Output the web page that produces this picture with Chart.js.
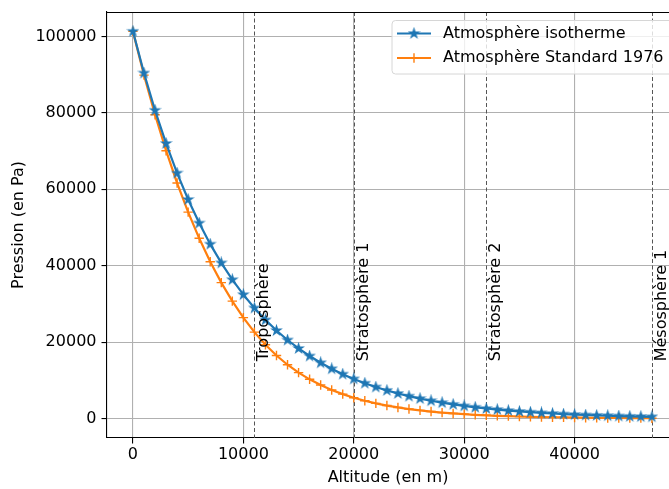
<!DOCTYPE html>
<html><head><meta charset="utf-8">
<script src="https://cdn.jsdelivr.net/npm/chart.js@4/dist/chart.umd.min.js"></script>
<style>html,body{margin:0;padding:0;background:#fff;}canvas{display:block;}</style>
</head><body>
<canvas id="c" width="669" height="489"></canvas>
<script>
// ---- data ----
const altitudes = [0,1000,2000,3000,4000,5000,6000,7000,8000,9000,10000,11000,12000,13000,14000,15000,16000,17000,18000,19000,20000,21000,22000,23000,24000,25000,26000,27000,28000,29000,30000,31000,32000,33000,34000,35000,36000,37000,38000,39000,40000,41000,42000,43000,44000,45000,46000,47000];
const isothermPressure = [101325,90418,80685,72000,64250,57334,51162,45655,40740,36354,32441,28949,25833,23052,20571,18357,16381,14618,13044,11640,10387,9269,8271,7381,6586,5877,5244,4680,4176,3727,3326,2968,2649,2364,2110,1883,1680,1499,1338,1194,1065,950,848,757,675,602,537,479];
const standardPressure = [101325,89874,79494,70107,61639,54022,47181,41059,35595,30739,26435,22630,19330,16510,14101,12044,10287,8786,7504,6410,5475,4678,4000,3422,2931,2511,2153,1848,1586,1363,1172,1008,868,748,646,559,484,420,366,318,278,242,212,186,163,143,126,111];
const seriesNames = ['Atmosphère isotherme','Atmosphère Standard 1976'];
const xTicks = [0,10000,20000,30000,40000];
const yTicks = [0,20000,40000,60000,80000,100000];
const layerAltitudes = [11000,20000,32000,47000];
const layerNames = ['Troposphère','Stratosphère 1','Stratosphère 2','Mésosphère 1'];
const layerLabelPressure = 15000;

// ---- styles ----
const BLUE = '#1f77b4', ORANGE = '#ff7f0e';
const FONT = '"DejaVu Sans", sans-serif';
const FS = 16;

function makeStar(color){
  const c = document.createElement('canvas');
  c.width = 13; c.height = 13;
  const g = c.getContext('2d');
  const R = 4.6, r = R*0.381966, cx = 6.5, cy = 6.5;
  g.beginPath();
  for (let k=0;k<10;k++){
    const ang = -Math.PI/2 + k*Math.PI/5;
    const rr = k%2===0 ? R : r;
    const px = cx + rr*Math.cos(ang), py = cy + rr*Math.sin(ang);
    if (k===0) g.moveTo(px,py); else g.lineTo(px,py);
  }
  g.closePath();
  g.fillStyle = color; g.fill();
  g.strokeStyle = color; g.lineWidth = 1.3; g.lineJoin='miter'; g.stroke();
  return c;
}
const starImg = makeStar(BLUE);

function drawCross(ctx, x, y, r, color){
  ctx.save(); ctx.strokeStyle = color; ctx.lineWidth = 1.4;
  ctx.beginPath(); ctx.moveTo(x-r,y); ctx.lineTo(x+r,y); ctx.moveTo(x,y-r); ctx.lineTo(x,y+r); ctx.stroke();
  ctx.restore();
}

const decor = {
  id: 'decor',
  beforeDatasetsDraw(chart){
    const {ctx, chartArea:a, scales:{x}} = chart;
    ctx.save();
    ctx.strokeStyle = '#555'; ctx.lineWidth = 1; ctx.setLineDash([4,2.5]);
    layerAltitudes.forEach(v => {
      const px = Math.round(x.getPixelForValue(v)) + 0.5;
      ctx.beginPath(); ctx.moveTo(px, a.top); ctx.lineTo(px, a.bottom); ctx.stroke();
    });
    ctx.restore();
  },
  afterDatasetsDraw(chart){
    const {ctx, chartArea:a, scales:{x,y}} = chart;
    ctx.save();
    ctx.fillStyle = '#000'; ctx.font = FS + 'px ' + FONT;
    ctx.textAlign = 'left'; ctx.textBaseline = 'alphabetic';
    const py = y.getPixelForValue(layerLabelPressure);
    layerAltitudes.forEach((v,i) => {
      const px = x.getPixelForValue(v);
      ctx.save(); ctx.translate(px + 14, py); ctx.rotate(-Math.PI/2);
      ctx.fillText(layerNames[i], 0, 0); ctx.restore();
    });
    // top spine
    ctx.strokeStyle = '#000'; ctx.lineWidth = 1.1;
    ctx.beginPath(); ctx.moveTo(a.left, a.top + 0.5); ctx.lineTo(a.right + 10, a.top + 0.5); ctx.stroke();
    // legend
    const lx = 392, ly = 20.5, lw = 290, lh = 53.5, rad = 3.5;
    ctx.beginPath();
    ctx.moveTo(lx+rad, ly); ctx.lineTo(lx+lw-rad, ly); ctx.arcTo(lx+lw, ly, lx+lw, ly+rad, rad);
    ctx.lineTo(lx+lw, ly+lh-rad); ctx.arcTo(lx+lw, ly+lh, lx+lw-rad, ly+lh, rad);
    ctx.lineTo(lx+rad, ly+lh); ctx.arcTo(lx, ly+lh, lx, ly+lh-rad, rad);
    ctx.lineTo(lx, ly+rad); ctx.arcTo(lx, ly, lx+rad, ly, rad); ctx.closePath();
    ctx.fillStyle = 'rgba(255,255,255,0.8)'; ctx.fill();
    ctx.strokeStyle = '#d6d6d6'; ctx.lineWidth = 1; ctx.stroke();
    const rows = [33.5, 58];
    const colors = [BLUE, ORANGE];
    rows.forEach((ry, i) => {
      ctx.strokeStyle = colors[i]; ctx.lineWidth = 2.2;
      ctx.beginPath(); ctx.moveTo(397, ry); ctx.lineTo(431, ry); ctx.stroke();
      if (i === 0) ctx.drawImage(starImg, 414 - starImg.width/2, ry - starImg.height/2);
      else drawCross(ctx, 414, ry, 4.7, ORANGE);
      ctx.fillStyle = '#000'; ctx.textBaseline = 'middle'; ctx.textAlign = 'left';
      ctx.fillText(seriesNames[i], 443, ry);
    });
    ctx.restore();
  }
};

Chart.defaults.font.family = FONT;
Chart.defaults.font.size = FS;
Chart.defaults.color = '#000';

new Chart(document.getElementById('c'), {
  type: 'line',
  data: {
    datasets: [
      {
        label: seriesNames[0],
        data: altitudes.map((a,i) => ({x:a, y:isothermPressure[i]})),
        borderColor: BLUE, backgroundColor: BLUE, borderWidth: 2.2,
        pointStyle: starImg, pointRadius: 5, pointHoverRadius: 5, tension: 0, fill: false
      },
      {
        label: seriesNames[1],
        data: altitudes.map((a,i) => ({x:a, y:standardPressure[i]})),
        borderColor: ORANGE, backgroundColor: ORANGE, borderWidth: 2.2,
        pointStyle: 'cross', pointRadius: 4.7, pointBorderWidth: 1.4, pointHoverRadius: 4.7, tension: 0, fill: false
      }
    ]
  },
  options: {
    responsive: false, animation: false, devicePixelRatio: 1,
    layout: { autoPadding: false, padding: { top: 12, right: 0, left: 0, bottom: 0 } },
    plugins: { legend: { display: false }, tooltip: { enabled: false } },
    scales: {
      x: {
        type: 'linear', min: -2350, max: 48550,
        afterFit: s => { s.height = 51; s.paddingLeft = 0; s.paddingRight = 0; },
        afterBuildTicks: s => { s.ticks = xTicks.map(v => ({value: v})); },
        ticks: { padding: 2, maxRotation: 0, callback: v => String(v) },
        grid: { color: '#b0b0b0', lineWidth: 1.1, tickLength: 5.5, tickColor: '#000', tickWidth: 1.1 },
        border: { display: true, color: '#000', width: 1.1 },
        title: { display: true, text: 'Altitude (en m)', padding: { top: 0, bottom: 2 } }
      },
      y: {
        type: 'linear', min: -5066, max: 106391,
        afterFit: s => { s.width = 107; s.paddingTop = 0; s.paddingBottom = 0; },
        afterBuildTicks: s => { s.ticks = yTicks.map(v => ({value: v})); },
        ticks: { padding: 5, callback: v => String(v) },
        grid: { color: '#b0b0b0', lineWidth: 1.1, tickLength: 5.5, tickColor: '#000', tickWidth: 1.1 },
        border: { display: true, color: '#000', width: 1.1 },
        title: { display: true, text: 'Pression (en Pa)', padding: { top: 9, bottom: 0 } }
      }
    }
  },
  plugins: [decor]
});
</script>
</body></html>
